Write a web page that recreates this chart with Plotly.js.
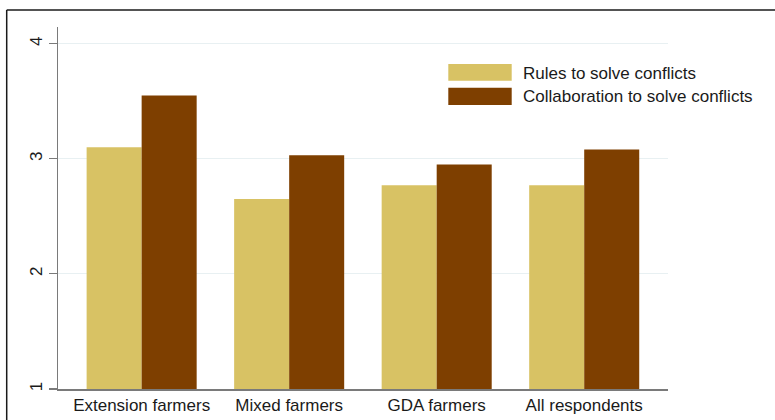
<!DOCTYPE html>
<html>
<head>
<meta charset="utf-8">
<script src="https://cdn.plot.ly/plotly-3.0.1.min.js"></script>
<style>
html,body{margin:0;padding:0;background:#fff;overflow:hidden;}
#chart{width:775px;height:420px;}
</style>
</head>
<body>
<div id="chart"></div>
<script>
const categories = ['Extension farmers', 'Mixed farmers', 'GDA farmers', 'All respondents'];
const rulesValues = [3.10, 2.65, 2.77, 2.77];
const collabValues = [3.55, 3.03, 2.95, 3.08];
const seriesNames = ['Rules to solve conflicts', 'Collaboration to solve conflicts'];
const seriesColors = ['#d8c264', '#7e3f00'];
const yTicks = [1, 2, 3, 4];

const W = 775, H = 420;
const M = {l: 58, r: 107, t: 27, b: 31};
const PW = W - M.l - M.r, PH = H - M.t - M.b;
const px = x => (x - M.l) / PW;
const py = y => (H - M.b - y) / PH;

const FONT = 'Arial, "Liberation Sans", Helvetica, sans-serif';

const traces = [
  {type: 'bar', x: categories, y: rulesValues, name: seriesNames[0],
   marker: {color: seriesColors[0]}, hoverinfo: 'x+y'},
  {type: 'bar', x: categories, y: collabValues, name: seriesNames[1],
   marker: {color: seriesColors[1]}, hoverinfo: 'x+y'}
];

// custom legend (wide swatches)
const legRows = [{top: 64, bottom: 80.7, textY: 73}, {top: 87.7, bottom: 105, textY: 96.5}];
const shapes = [];
const annotations = [];
legRows.forEach((r, i) => {
  shapes.push({type: 'rect', xref: 'paper', yref: 'paper',
    x0: px(448.3), x1: px(511.7), y0: py(r.bottom), y1: py(r.top),
    fillcolor: seriesColors[i], line: {width: 0}});
  annotations.push({xref: 'paper', yref: 'paper', x: px(521), y: py(r.textY),
    xanchor: 'left', yanchor: 'middle', showarrow: false, text: seriesNames[i],
    font: {family: FONT, size: 17, color: '#1a1a1a'}});
});
// outer frame (only top and left edges visible in the crop)
shapes.push({type: 'line', xref: 'paper', yref: 'paper',
  x0: px(6.7), x1: px(775), y0: py(10), y1: py(10),
  line: {width: 1.5, color: '#1a1a1a'}, layer: 'above'});
shapes.push({type: 'line', xref: 'paper', yref: 'paper',
  x0: px(6.7), x1: px(6.7), y0: py(10), y1: py(420),
  line: {width: 1.5, color: '#1a1a1a'}, layer: 'above'});

const layout = {
  width: W, height: H,
  margin: M,
  paper_bgcolor: '#ffffff', plot_bgcolor: '#ffffff',
  showlegend: false,
  barmode: 'group', bargap: 0.254, bargroupgap: 0,
  font: {family: FONT, size: 17, color: '#1a1a1a'},
  xaxis: {
    type: 'category', range: [-0.567, 3.568],
    showline: true, linecolor: '#7a7a7a', linewidth: 1.5,
    ticks: '', showgrid: false, zeroline: false,
    tickfont: {family: FONT, size: 17, color: '#1a1a1a'}
  },
  yaxis: {
    range: [1, 4.145], tickvals: yTicks, ticktext: yTicks.map(String),
    tickangle: -90,
    showline: true, linecolor: '#7a7a7a', linewidth: 1.5,
    ticks: 'outside', ticklen: 8, tickwidth: 1.2, tickcolor: '#7a7a7a',
    showgrid: true, gridcolor: '#e8f0f2', gridwidth: 1,
    zeroline: false,
    tickfont: {family: FONT, size: 17, color: '#1a1a1a'}
  },
  shapes: shapes,
  annotations: annotations
};

Plotly.newPlot('chart', traces, layout, {displayModeBar: false, staticPlot: true});
</script>
</body>
</html>
